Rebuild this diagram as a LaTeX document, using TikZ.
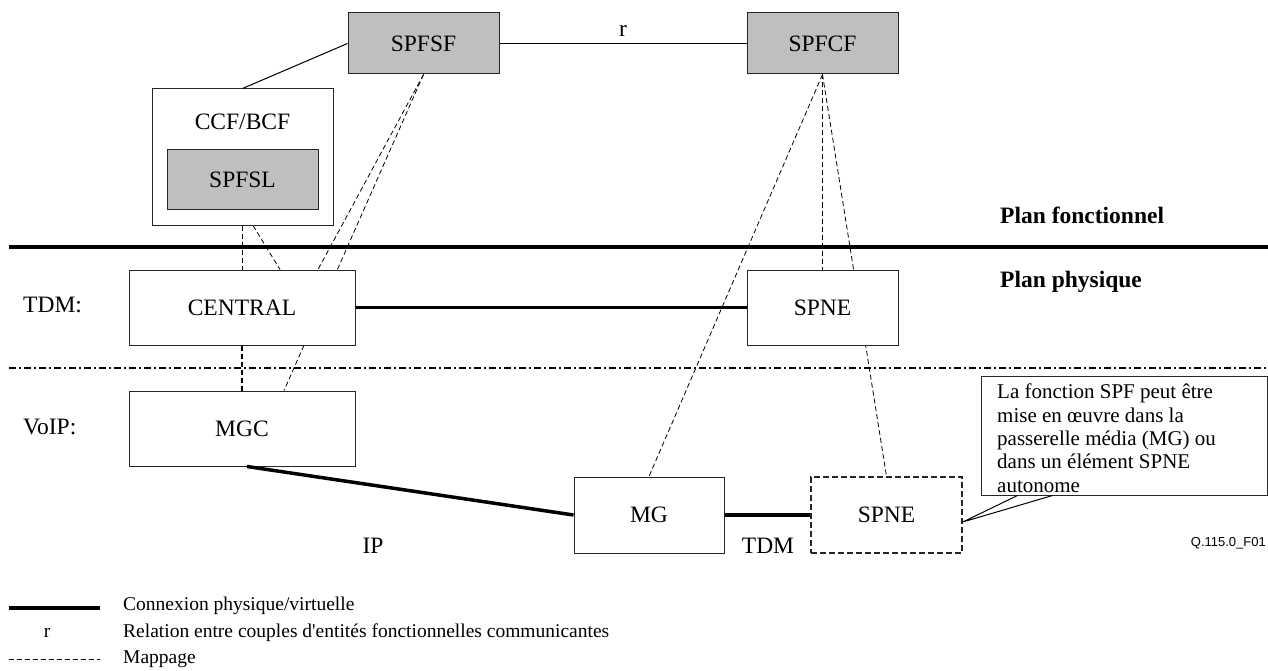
\documentclass[tikz,border=0pt]{standalone}
\usepackage{fontspec}
\setmainfont{Liberation Serif}[Ligatures=TeXOff]
\newfontfamily\arialfont{Liberation Sans}
\usetikzlibrary{positioning,backgrounds}

\begin{document}
\begin{tikzpicture}[x=1pt,y=-1pt,
        box/.style={draw=black!85, line width=1pt, fill=white, inner sep=0pt, font=\fontsize{23.5}{28}\selectfont},
        spf/.style={box, fill=black!25, minimum width=151pt, minimum height=61pt},
        lbl/.style={inner sep=0pt, font=\fontsize{23.5}{28}\selectfont},
        leg/.style={inner sep=0pt, anchor=west, font=\fontsize{19.5}{23}\selectfont},
        phys/.style={line width=3.5pt},
        map/.style={dash pattern=on 5pt off 3pt, line width=0.8pt},
        mapthick/.style={dash pattern=on 5pt off 3pt, line width=1.5pt}]
        \useasboundingbox (0,0) rectangle (1268,671);

        % functional plane
        \node (spfsf) [spf] at (423.5,43.5) {SPFSF};
        \node (spfcf) [spf] at (822.5,43.5) {SPFCF};
        \node (ccf) [box, minimum width=181pt, minimum height=136pt] at (242.5,157) {};
        \node (ccflbl) [lbl] at ([yshift=-33pt]ccf.north) {CCF/BCF};
        \node (spfsl) [spf, minimum height=59pt] at (242.5,179.5) {SPFSL};

        % physical plane
        \node (central) [box, minimum width=226pt, minimum height=75pt] at (242,307.5) {CENTRAL};
        \node (spne) [box, minimum width=151pt, minimum height=75pt] at (822.5,307.5) {SPNE};
        \node (mgc) [box, minimum width=226pt, minimum height=75pt] at (242,428.5) {MGC};
        \node (mg) [box, minimum width=150pt, minimum height=76pt] at (649,515) {MG};
        \node (spnex) [box, dash pattern=on 6pt off 3pt, line width=1.5pt, minimum width=151pt, minimum height=76pt] at (886.5,515) {SPNE};

        \node (tdm) [lbl, anchor=west] at (23,305) {TDM:};
        \node (voip) [lbl, anchor=west] at (23,427) {VoIP:};
        \node (ip) [lbl] at (373,546) {IP};
        \node (tdm2) [lbl] at (768,546) {TDM};
        \node (planf) [lbl, anchor=west, font=\fontsize{23.5}{28}\selectfont\bfseries] at (1000,215) {Plan fonctionnel};
        \node (planp) [lbl, anchor=west, font=\fontsize{23.5}{28}\selectfont\bfseries] at (1000,282) {Plan physique};

        % plane separators
        \draw[line width=4pt] (9,247) -- (1268,247);
        \draw[line width=1.3pt, dash pattern=on 7pt off 3pt on 2pt off 3pt] (9,368) -- (1268,368);

        % relations and connections
        \draw[line width=1pt] (spfsf.west) -- (ccf.north);
        \draw[line width=1pt] (spfsf) -- node[lbl, above=6pt]{r} (spfcf);
        \draw[phys] (central) -- (spne);
        \draw[phys] ([xshift=5pt]mgc.south) -- (mg.west);
        \draw[phys] (mg) -- (spnex);

        % mappings
        \begin{scope}[on background layer]
        \draw[mapthick] (ccf.south) -- (ccf.south |- central.north);
        \draw[mapthick] (central.south) -- (mgc.north);
        \draw[map] ([xshift=10.5pt]ccf.south) -- ([xshift=38pt]central.north);
        \draw[map] (spfsf.south) -- ([xshift=76pt]central.north);
        \draw[map] (spfsf.south) -- ([xshift=42pt]mgc.north);
        \draw[mapthick] (spfcf.south) -- (spne.north);
        \draw[map] (spfcf.south) -- (mg.north);
        \draw[map] (spfcf.south) -- (spnex.north);
        \end{scope}

        % note
        \node (note) [draw=black!85, line width=1pt, minimum width=286pt, minimum height=119pt, inner sep=0pt] at (1124,435.5) {};
        \node (notetxt) [anchor=north west, align=left, inner sep=0pt, font=\fontsize{21}{23.3}\selectfont] at (997,384) {La fonction SPF peut être\\mise en œuvre dans la\\passerelle média (MG) ou\\dans un élément SPNE\\autonome};
        \coordinate (pa) at ([xshift=37pt]note.south west);
        \coordinate (pb) at ([xshift=72pt]note.south west);
        \draw[line width=1pt] (pa) -- ([yshift=-7pt]spnex.east) -- (pb);
        \node (ref) [anchor=east, inner sep=0pt, font=\arialfont\fontsize{13}{15}\selectfont] at (1266,543) {Q.115.0\_F01};

        % legend
        \draw[phys] (9,608) -- (100,608);
        \node (legr) [lbl, font=\fontsize{19.5}{23}\selectfont] at (47,633) {r};
        \draw[map, line width=1pt] (9,659) -- (100,659);
        \node (leg1) [leg] at (123,606) {Connexion physique/virtuelle};
        \node (leg2) [leg] at (123,633) {Relation entre couples d'entités fonctionnelles communicantes};
        \node (leg3) [leg] at (123,659) {Mappage};
    \end{tikzpicture}
\end{document}
